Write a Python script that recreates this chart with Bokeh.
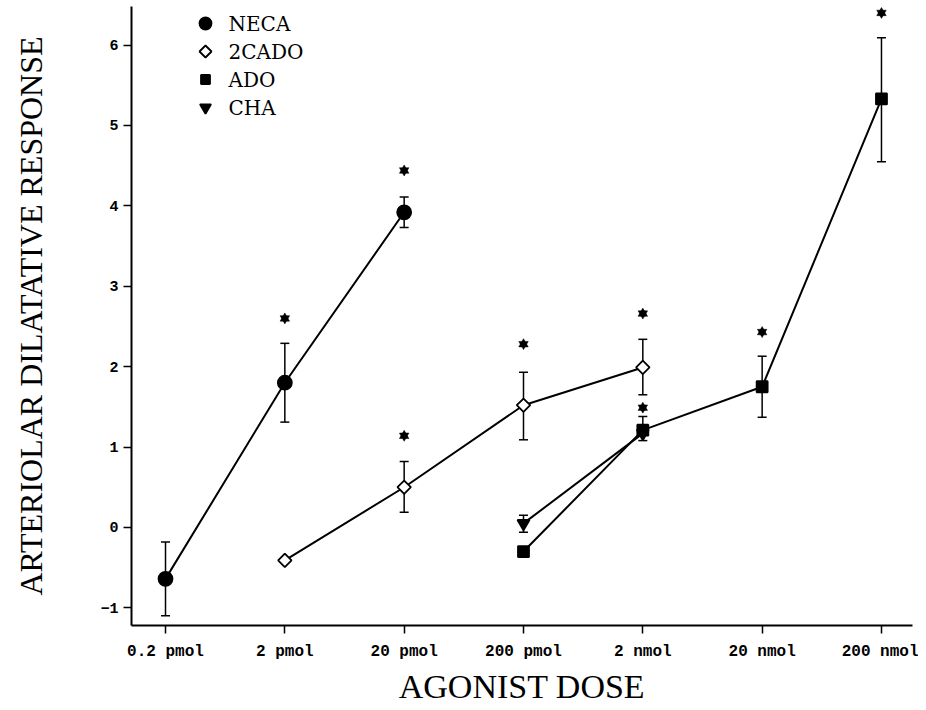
from bokeh.plotting import figure
from bokeh.models import (ColumnDataSource, Whisker, TeeHead, FixedTicker,
                          Range1d)
from bokeh.core.properties import value
from bokeh.embed import file_html
from bokeh.resources import INLINE

# ---- data ----
dose_labels = ["0.2 pmol", "2 pmol", "20 pmol", "200 pmol", "2 nmol", "20 nmol", "200 nmol"]
y_ticks = [-1, 0, 1, 2, 3, 4, 5, 6]

neca_x = [0, 1, 2]
neca_y = [-0.64, 1.80, 3.92]
neca_lo = [-1.10, 1.31, 3.73]
neca_hi = [-0.18, 2.29, 4.11]

cado_x = [1, 2, 3, 4]
cado_y = [-0.41, 0.50, 1.52, 1.99]
cado_lo = [-0.41, 0.19, 1.09, 1.65]
cado_hi = [-0.41, 0.82, 1.93, 2.34]

ado_x = [3, 4, 5, 6]
ado_y = [-0.30, 1.21, 1.75, 5.33]
ado_lo = [-0.30, 1.08, 1.37, 4.55]
ado_hi = [-0.30, 1.38, 2.13, 6.09]

cha_x = [3, 4]
cha_y = [0.05, 1.17]
cha_lo = [-0.06, 1.17]
cha_hi = [0.15, 1.17]

star_x = [1, 2, 2, 3, 4, 4, 5, 6]
star_y = [2.60, 4.44, 1.14, 2.28, 2.66, 1.49, 2.43, 6.40]

series_names = ["NECA", "2CADO", "ADO", "CHA"]

# ---- figure ----
FW, FH = 781, 619
p = figure(frame_width=FW, frame_height=FH, output_backend="svg", toolbar_location=None,
           x_range=Range1d(-0.285, 6.26), y_range=Range1d(-1.22, 6.48),
           min_border_left=131, min_border_right=6, min_border_top=6,
           min_border_bottom=77)
p.extra_x_ranges = {"lx": Range1d(0, FW)}
p.extra_y_ranges = {"ly": Range1d(0, FH)}
p.outline_line_color = None
p.xgrid.visible = False
p.ygrid.visible = False
p.background_fill_color = "white"
p.border_fill_color = "white"

tick_font = "Liberation Mono"
for ax in (p.xaxis[0], p.yaxis[0]):
    ax.axis_line_width = 2
    ax.axis_line_color = "black"
    ax.major_tick_line_width = 1.5
    ax.major_tick_line_color = "black"
    ax.major_tick_out = 8
    ax.major_tick_in = 0
    ax.minor_tick_line_color = None
    ax.major_label_text_font = tick_font
    ax.major_label_text_font_style = "bold"
    ax.major_label_text_color = "black"
    ax.axis_label_text_font = "Liberation Serif"
    ax.axis_label_text_font_style = "normal"
    ax.axis_label_text_color = "black"

p.xaxis[0].ticker = FixedTicker(ticks=list(range(len(dose_labels))))
p.xaxis[0].major_label_overrides = {i: s for i, s in enumerate(dose_labels)}
p.xaxis[0].major_label_text_font_size = "16px"
p.xaxis[0].major_label_standoff = 9
p.xaxis[0].axis_label = "AGONIST DOSE"
p.xaxis[0].axis_label_text_font_size = "34px"
p.xaxis[0].axis_label_standoff = 4

p.yaxis[0].ticker = FixedTicker(ticks=y_ticks)
p.yaxis[0].major_label_text_font_size = "15px"
p.yaxis[0].major_label_standoff = 5
p.yaxis[0].axis_label = "ARTERIOLAR DILATATIVE RESPONSE"
p.yaxis[0].axis_label_text_font_size = "32px"
p.yaxis[0].axis_label_standoff = 48

styles = [
    dict(marker="circle", size=14, fill_color="black", angle=0.0),
    dict(marker="square", size=9.5, fill_color="white", angle=0.785398),
    dict(marker="square", size=11, fill_color="black", angle=0.0),
    dict(marker="inverted_triangle", size=12, fill_color="black", angle=0.0),
]
legend_styles = [
    dict(marker="circle", size=12, fill_color="black", angle=0.0),
    dict(marker="square", size=8.5, fill_color="white", angle=0.785398),
    dict(marker="square", size=9, fill_color="black", angle=0.0),
    dict(marker="inverted_triangle", size=11, fill_color="black", angle=0.0),
]
data = [
    (neca_x, neca_y, neca_lo, neca_hi),
    (cado_x, cado_y, cado_lo, cado_hi),
    (ado_x, ado_y, ado_lo, ado_hi),
    (cha_x, cha_y, cha_lo, cha_hi),
]

sources = []
for xs, ys, lo, hi in data:
    src = ColumnDataSource(dict(x=xs, y=ys, lo=lo, hi=hi))
    sources.append(src)
    p.line("x", "y", source=src, line_color="black", line_width=2)

for src in sources:
    w = Whisker(base="x", lower="lo", upper="hi", source=src, dimension="height",
                line_color="black", line_width=1.5,
                lower_head=TeeHead(size=9, line_color="black", line_width=1.5),
                upper_head=TeeHead(size=9, line_color="black", line_width=1.5))
    p.add_layout(w)

for st, src in zip(styles, sources):
    p.scatter("x", "y", source=src, marker=st["marker"], size=st["size"],
              fill_color=st["fill_color"], line_color="black", line_width=1.8,
              angle=st["angle"])

# significance stars (hexagram from two triangles)
star_src = ColumnDataSource(dict(x=star_x, y=star_y))
for mk in ("triangle", "inverted_triangle"):
    p.scatter("x", "y", source=star_src, marker=mk, size=9.5, fill_color="black",
              line_color="black", line_width=0.5)

# ---- legend (frame pixel coordinates) ----
leg_x0, leg_y0, leg_step, leg_gap = 74, 602, 28, 23
for i, (name, st) in enumerate(zip(series_names, legend_styles)):
    yy = leg_y0 - i * leg_step
    p.scatter([leg_x0], [yy], x_range_name="lx", y_range_name="ly",
              marker=st["marker"], size=st["size"], fill_color=st["fill_color"],
              line_color="black", line_width=1.8, angle=st["angle"])
    p.text([leg_x0 + leg_gap], [yy], text=[name], x_range_name="lx", y_range_name="ly",
           text_font=value("DejaVu Serif"), text_font_size="20px",
           text_baseline="middle", text_align="left", text_color="black")

open("out.html", "w").write(file_html(p, INLINE))
